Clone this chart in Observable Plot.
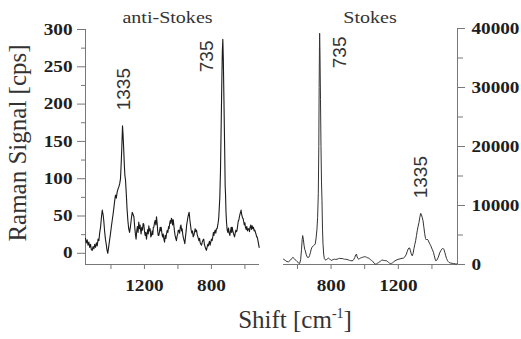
<!DOCTYPE html>
<html>
<head>
<meta charset="utf-8">
<script src="https://cdn.jsdelivr.net/npm/d3@7"></script>
<script src="https://cdn.jsdelivr.net/npm/@observablehq/plot@0.6"></script>
<style>
  html, body { margin: 0; padding: 0; background: #fff; }
  #wrap { position: relative; width: 521px; height: 339px; overflow: hidden; background: #fff; }
  #wrap > svg, #wrap > figure { position: absolute; margin: 0; }
</style>
</head>
<body>
<div id="wrap"></div>
<script>
// ---- Data ----
const panelTitles = ["anti-Stokes", "Stokes"];
const yAxisTitle = "Raman Signal [cps]";
const xAxisTitle = "Shift [cm";
const xAxisSup = "-1";

// anti-Stokes spectrum (shift in cm^-1, signal in cps)
const antiShift = [1552,1547,1542,1537,1532,1527,1522,1517,1512,1507,1502,1497,1492,1487,1482,1477,1472,1467,1462,1457,1452,1447,1443,1438,1433,1428,1424,1419,1414,1408,1403,1398,1392,1387,1382,1378,1373,1368,1363,1358,1353,1348,1343,1338,1334,1331,1328,1324,1320,1317,1313,1308,1304,1299,1294,1289,1284,1279,1273,1268,1263,1258,1254,1250,1246,1242,1238,1234,1230,1226,1222,1220,1216,1212,1208,1204,1200,1196,1192,1188,1184,1180,1177,1174,1170,1166,1162,1158,1154,1150,1147,1144,1140,1136,1132,1128,1124,1121,1118,1114,1110,1106,1102,1100,1096,1092,1088,1084,1080,1076,1072,1068,1064,1060,1056,1053,1050,1046,1042,1039,1035,1032,1028,1025,1021,1017,1013,1009,1005,1001,998,995,990,986,982,978,975,971,967,963,959,955,951,948,945,941,937,933,929,925,921,917,913,909,905,901,897,893,889,885,881,877,875,871,867,863,859,855,850,846,842,838,834,830,826,822,818,816,812,808,804,800,796,792,788,785,782,778,774,770,766,762,758,756,753,750,746,742,738,735,732,729,725,721,718,716,713,710,706,702,698,694,690,686,682,679,676,672,668,665,662,658,654,650,647,643,640,636,633,629,626,623,620,617,614,611,607,604,600,597,593,589,585,581,577,573,569,565,561,557,553,549,545,541,537,533,530,527,523,519,515];
const antiSignal = [20,14,18,11,15,8,12,5,4,9,6,12,8,14,10,19,17,28,35,48,58,52,44,30,19,12,5,0,8,18,26,35,45,53,62,70,78,74,82,86,89,93,100,125,150,171,160,140,118,105,98,78,60,44,33,28,35,45,55,52,49,35,26,19,30,36,28,42,33,38,29,26,35,31,40,39,30,24,28,19,27,32,26,37,30,33,22,24,30,25,35,35,41,44,38,49,40,30,24,24,29,35,30,35,27,22,26,19,15,24,20,26,31,28,36,33,39,44,40,47,45,38,45,39,30,24,20,17,23,26,31,31,27,35,38,30,33,25,20,17,13,22,30,38,42,48,52,55,45,38,31,27,30,22,24,28,33,29,31,25,22,19,17,20,14,12,11,15,18,19,12,9,6,4,8,12,10,13,16,11,15,19,17,22,28,24,28,31,27,33,33,38,44,49,62,75,110,170,230,270,287,260,200,140,90,80,55,42,31,28,34,27,24,30,35,28,35,30,26,24,22,27,31,29,31,38,43,45,49,53,55,58,53,50,47,47,42,38,41,35,32,36,30,33,33,29,35,38,32,37,33,35,30,31,28,25,22,22,18,13,8];

// Stokes spectrum (shift in cm^-1, signal in cps)
const stokesShift = [517,527,537,547,557,565,573,581,589,597,605,613,619,624,628,631,635,639,643,647,652,657,662,667,672,677,682,686,691,696,701,706,711,716,720,724,727,729,731,732,734,737,740,743,746,749,752,756,760,765,770,775,780,786,791,796,801,806,813,821,828,836,844,851,859,866,873,880,887,895,902,910,917,925,931,936,941,946,951,955,960,965,970,975,980,985,990,995,1000,1005,1010,1015,1020,1025,1030,1035,1040,1045,1050,1055,1060,1065,1070,1075,1080,1084,1089,1094,1099,1104,1110,1116,1122,1130,1136,1142,1148,1154,1160,1166,1172,1180,1186,1192,1198,1204,1210,1216,1222,1230,1236,1242,1248,1253,1258,1263,1268,1272,1277,1283,1288,1293,1298,1303,1308,1313,1318,1323,1328,1333,1337,1342,1347,1352,1357,1362,1367,1372,1377,1382,1387,1393,1398,1403,1409,1414,1419,1423,1428,1433,1437,1442,1448,1453,1458,1463,1467,1472,1477,1482,1487,1492,1497,1502,1510,1520,1528,1540,1552];
const stokesSignal = [900,700,500,460,700,1000,1200,1000,750,510,300,170,800,2500,4200,4900,4300,3300,2600,2300,1700,1300,1200,1200,1500,2000,2600,2900,3100,3200,3300,3500,4500,6000,8000,12000,20000,30000,37000,39200,36000,28000,20000,14000,10800,6000,3500,1760,1000,800,740,900,1000,1080,950,800,700,740,850,900,860,910,980,1050,1000,1020,950,880,900,850,780,700,650,625,700,900,1190,1600,1760,1300,1000,910,1000,1100,1150,1190,1250,1300,1320,1300,1250,1150,1100,1080,950,800,700,625,450,250,120,60,100,200,300,340,450,600,700,740,720,680,650,625,500,350,220,170,200,300,450,625,700,800,870,910,950,1000,1050,1080,1200,1450,1760,2200,2600,2800,2780,2300,1800,1470,1900,2700,3400,4020,4900,5800,6500,7140,8000,8670,8500,8000,7420,6300,5200,4400,4150,4300,4130,3800,3500,3180,2800,2500,2050,1500,900,625,700,950,1190,1600,2100,2330,2600,2700,2720,2500,2000,1470,1000,700,500,340,250,200,170,100,60];

// Peak labels
const antiLabelText = ["1335", "735"];
const antiLabelShift = [1320, 827];
const antiLabelSignal = [220, 264];
const stokesLabelText = ["735", "1335"];
const stokesLabelShift = [850, 1333];
const stokesLabelSignal = [35950, 14800];

// Ticks
const antiXTicks = [1200, 800];
const antiXMinor = [1400, 1000, 600];
const antiYTicks = [0, 50, 100, 150, 200, 250, 300];
const antiYMinor = [25, 75, 125, 175, 225, 275];
const stokesXTicks = [800, 1200];
const stokesXMinor = [600, 1000, 1400];
const stokesYTicks = [0, 10000, 20000, 30000, 40000];
const stokesYMinor = [5000, 15000, 25000, 35000];

// Domains
const antiXDomain = [1552, 513];
const antiYDomain = [-15, 300];
const stokesXDomain = [517, 1552];
const stokesYDomain = [0, 40000];

// ---- Build ----
const serif = "'Liberation Serif', 'Times New Roman', serif";
const labelFont = "'Liberation Sans', Arial, sans-serif";
const axisGray = "#777";
const textColor = "#1e1e1e";

const antiData = antiShift.map((s, i) => ({shift: s, signal: antiSignal[i]}));
const stokesData = stokesShift.map((s, i) => ({shift: s, signal: stokesSignal[i]}));
const antiLabels = antiLabelText.map((t, i) => ({t, shift: antiLabelShift[i], signal: antiLabelSignal[i]}));
const stokesLabels = stokesLabelText.map((t, i) => ({t, shift: stokesLabelShift[i], signal: stokesLabelSignal[i]}));

const commonStyle = {background: "transparent", overflow: "visible", fontFamily: serif, fontSize: "16px", color: textColor};
const tickText = {fill: textColor, fontSize: 16, fontWeight: "bold", label: null, tickFormat: d => String(d)};

const left = Plot.plot({
  width: 265, height: 300,
  marginLeft: 85, marginRight: 6, marginTop: 29, marginBottom: 36,
  x: {domain: antiXDomain, axis: null},
  y: {domain: antiYDomain, axis: null},
  style: commonStyle,
  marks: [
    Plot.ruleX([antiXDomain[0]], {stroke: axisGray, strokeWidth: 1}),
    Plot.ruleY([antiYDomain[0]], {stroke: axisGray, strokeWidth: 1}),
    Plot.axisY(antiYTicks, {...tickText, tickSize: 8, tickPadding: 5, stroke: axisGray}),
    Plot.axisY(antiYMinor, {tickSize: 4, stroke: axisGray, tickFormat: () => "", label: null}),
    Plot.axisX(antiXTicks, {...tickText, tickSize: 5, tickPadding: 10, stroke: axisGray}),
    Plot.axisX(antiXMinor, {tickSize: 5, stroke: axisGray, tickFormat: () => "", label: null}),
    Plot.line(antiData, {x: "shift", y: "signal", stroke: "#1a1a1a", strokeWidth: 1.1}),
    Plot.text(antiLabels, {x: "shift", y: "signal", text: "t", rotate: -90, textAnchor: "middle", lineAnchor: "middle", fontSize: 19, fontFamily: labelFont, fill: "#333", ariaLabel: "peak label"})
  ]
});
left.style.left = "0px"; left.style.top = "0px";

const right = Plot.plot({
  width: 251, height: 300,
  marginLeft: 13, marginRight: 64, marginTop: 28, marginBottom: 36,
  x: {domain: stokesXDomain, axis: null},
  y: {domain: stokesYDomain, axis: null},
  style: commonStyle,
  marks: [
    Plot.ruleX([stokesXDomain[1]], {stroke: axisGray, strokeWidth: 1}),
    Plot.ruleY([stokesYDomain[0]], {stroke: axisGray, strokeWidth: 1}),
    Plot.axisY(stokesYTicks, {...tickText, anchor: "right", tickSize: 7, tickPadding: 7, stroke: axisGray}),
    Plot.axisY(stokesYMinor, {anchor: "right", tickSize: 5, stroke: axisGray, tickFormat: () => "", label: null}),
    Plot.axisX(stokesXTicks, {...tickText, tickSize: 5, tickPadding: 10, stroke: axisGray}),
    Plot.axisX(stokesXMinor, {tickSize: 5, stroke: axisGray, tickFormat: () => "", label: null}),
    Plot.line(stokesData, {x: "shift", y: "signal", stroke: "#333", strokeWidth: 1}),
    Plot.text(stokesLabels, {x: "shift", y: "signal", text: "t", rotate: -90, textAnchor: "middle", lineAnchor: "middle", fontSize: 19, fontFamily: labelFont, fill: "#333", ariaLabel: "peak label"})
  ]
});
right.style.left = "270px"; right.style.top = "0px";

// The reference's lettering is slightly wide: stretch tick labels horizontally,
// and condense the rotated peak labels along their reading direction.
function stretch(svg) {
  svg.querySelectorAll("g[aria-label$='tick label'] text").forEach(t => {
    const tr = t.getAttribute("transform");
    if (tr) t.setAttribute("transform", tr + " scale(1.2,1)");
    else {
      const x = t.getAttribute("x") || 0, y = t.getAttribute("y") || 0;
      t.removeAttribute("x"); t.removeAttribute("y");
      t.setAttribute("transform", `translate(${x},${y}) scale(1.2,1)`);
    }
  });
  svg.querySelectorAll("g[aria-label='peak label'] text").forEach(t => {
    const tr = t.getAttribute("transform");
    if (tr) t.setAttribute("transform", tr + " scale(0.88,1)");
  });
}
stretch(left); stretch(right);

const wrap = document.getElementById("wrap");
wrap.appendChild(left);
wrap.appendChild(right);

// Overlay texts: panel titles and axis titles
const ov = d3.create("svg")
  .attr("width", 521).attr("height", 339)
  .style("left", "0px").style("top", "0px").style("pointer-events", "none");
ov.append("text").attr("transform", "translate(167.5,23) scale(1.18,1)").attr("text-anchor", "middle")
  .attr("font-family", serif).attr("font-size", 17).attr("fill", "#333").text(panelTitles[0]);
ov.append("text").attr("transform", "translate(370,23) scale(1.18,1)").attr("text-anchor", "middle")
  .attr("font-family", serif).attr("font-size", 17).attr("fill", "#333").text(panelTitles[1]);
ov.append("text").attr("transform", "translate(26,143) rotate(-90)").attr("text-anchor", "middle")
  .attr("font-family", serif).attr("font-size", 25).attr("fill", "#333").text(yAxisTitle);
const xl = ov.append("text").attr("x", 295).attr("y", 328).attr("text-anchor", "middle")
  .attr("font-family", serif).attr("font-size", 25).attr("fill", "#333");
xl.append("tspan").text(xAxisTitle);
xl.append("tspan").attr("font-size", 14).attr("dy", -10).text(xAxisSup);
xl.append("tspan").attr("dy", 10).text("]");
wrap.appendChild(ov.node());
</script>
</body>
</html>
